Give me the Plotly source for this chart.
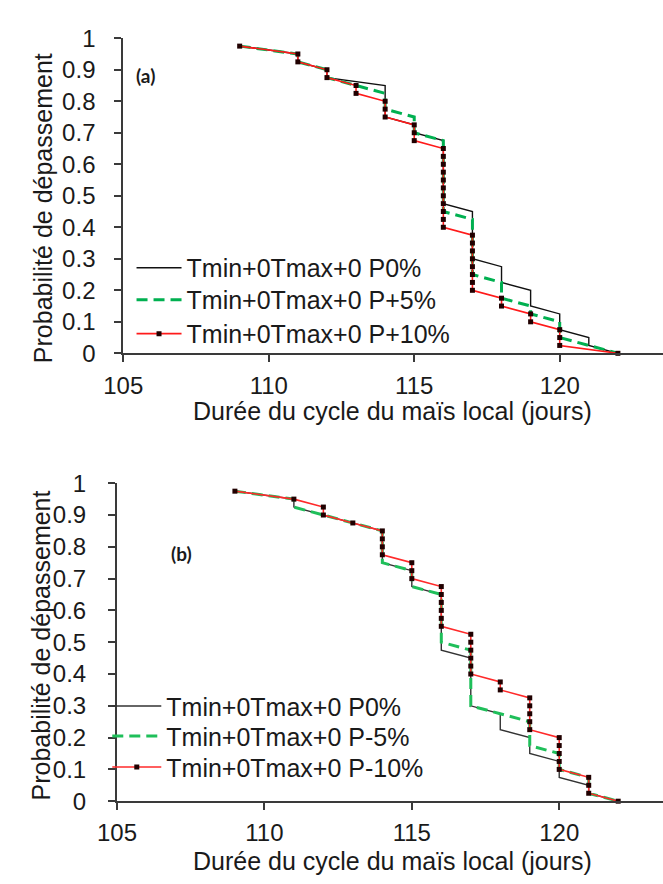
import plotly.graph_objects as go

W, H = 663, 884

# Exceedance probability of each ranked year (40 simulated seasons)
prob = [0.975, 0.95, 0.925, 0.9, 0.875, 0.85, 0.825, 0.8, 0.775, 0.75,
        0.725, 0.7, 0.675, 0.65, 0.625, 0.6, 0.575, 0.55, 0.525, 0.5,
        0.475, 0.45, 0.425, 0.4, 0.375, 0.35, 0.325, 0.3, 0.275, 0.25,
        0.225, 0.2, 0.175, 0.15, 0.125, 0.1, 0.075, 0.05, 0.025, 0.0]

# Cycle length (days), sorted, panel (a): rainfall increased
a_p0 = [109, 111, 111, 112, 112, 114, 114, 114, 114, 114,
        115, 115, 116, 116, 116, 116, 116, 116, 116, 116,
        116, 117, 117, 117, 117, 117, 117, 117, 118, 118,
        118, 119, 119, 119, 120, 120, 120, 121, 121, 122]
a_p5 = [109, 111, 111, 112, 112, 113, 114, 114, 114, 115,
        115, 115, 116, 116, 116, 116, 116, 116, 116, 116,
        116, 116, 117, 117, 117, 117, 117, 117, 117, 117,
        118, 118, 118, 119, 119, 120, 120, 120, 121, 122]
a_p10 = [109, 111, 111, 112, 112, 113, 113, 114, 114, 114,
         115, 115, 115, 116, 116, 116, 116, 116, 116, 116,
         116, 116, 116, 116, 117, 117, 117, 117, 117, 117,
         117, 117, 118, 118, 119, 119, 120, 120, 120, 122]

# Cycle length (days), sorted, panel (b): rainfall decreased
b_p0 = [109, 111, 111, 112, 113, 114, 114, 114, 114, 114,
        115, 115, 115, 116, 116, 116, 116, 116, 116, 116,
        116, 117, 117, 117, 117, 117, 117, 117, 118, 118,
        118, 119, 119, 119, 120, 120, 120, 121, 121, 122]
b_m5 = [109, 111, 111, 112, 113, 114, 114, 114, 114, 114,
        115, 115, 115, 116, 116, 116, 116, 116, 116, 116,
        117, 117, 117, 117, 117, 117, 117, 117, 118, 119,
        119, 119, 119, 120, 120, 120, 121, 121, 121, 122]
b_m10 = [109, 111, 112, 112, 113, 114, 114, 114, 114, 115,
         115, 115, 116, 116, 116, 116, 116, 116, 117, 117,
         117, 117, 117, 117, 118, 118, 119, 119, 119, 119,
         119, 120, 120, 120, 120, 120, 121, 121, 121, 122]

names_a = ["Tmin+0Tmax+0 P0%", "Tmin+0Tmax+0 P+5%", "Tmin+0Tmax+0 P+10%"]
names_b = ["Tmin+0Tmax+0 P0%", "Tmin+0Tmax+0 P-5%", "Tmin+0Tmax+0 P-10%"]
x_ticks = [105, 110, 115, 120]
y_ticks = [0, 0.1, 0.2, 0.3, 0.4, 0.5, 0.6, 0.7, 0.8, 0.9, 1]

FONT = "Liberation Sans, Arial, sans-serif"
TXT = "#1a1a1a"


def px_x(p):
    return p / W


def px_y(p):
    return 1 - p / H


def series_traces(durations, names, xa, ya, legends, black, green, red):
    s0, s1, s2 = durations
    return [
        go.Scatter(x=s0, y=prob, mode="lines", name=names[0],
                   line=dict(color=black, width=1.4), showlegend=True,
                   xaxis=xa, yaxis=ya, legend=legends[0], cliponaxis=False),
        go.Scatter(x=s1, y=prob, mode="lines", name=names[1],
                   line=dict(color=green, width=3, dash="11px,6px"), showlegend=True,
                   xaxis=xa, yaxis=ya, legend=legends[1], cliponaxis=False),
        go.Scatter(x=s2, y=prob, mode="lines+markers", name=names[2],
                   line=dict(color=red, width=1.6), showlegend=True,
                   marker=dict(symbol="square", size=5, color="#200000",
                               line=dict(width=0)),
                   xaxis=xa, yaxis=ya, legend=legends[2], cliponaxis=False),
    ]


fig = go.Figure()
for t in series_traces((a_p0, a_p5, a_p10), names_a, "x", "y",
                       ("legend", "legend2", "legend3"),
                       "#111111", "#00b050", "#ff1a1a"):
    fig.add_trace(t)
for t in series_traces((b_p0, b_m5, b_m10), names_b, "x2", "y2",
                       ("legend4", "legend5", "legend6"),
                       "#333333", "#1fbf5a", "#ff2a2a"):
    fig.add_trace(t)

axis_common = dict(
    showgrid=False, zeroline=False, showline=True, linecolor="#3a3a3a",
    linewidth=2, ticks="outside", ticklen=7, tickwidth=1.6,
    tickcolor="#3a3a3a", tickfont=dict(family=FONT, size=24, color=TXT),
)


def legend_row(x_left, y_mid, item_w):
    return dict(x=px_x(x_left), y=px_y(y_mid), xanchor="left", yanchor="middle",
                bgcolor="rgba(0,0,0,0)", itemwidth=item_w, visible=True,
                font=dict(family=FONT, size=25, color=TXT))


fig.update_layout(
    width=W, height=H, margin=dict(l=0, r=0, t=0, b=0),
    paper_bgcolor="white", plot_bgcolor="white", showlegend=True,
    font=dict(family=FONT, size=24, color=TXT),
    xaxis=dict(domain=[px_x(106.5), 1], range=[105, 105 + (W - 106.5) / 30],
               tickvals=x_ticks, anchor="y", ticklabelstandoff=3, **axis_common),
    yaxis=dict(domain=[px_y(350), px_y(25)], range=[0, 1], tickvals=y_ticks,
               anchor="x", ticklabelstandoff=14, **axis_common),
    xaxis2=dict(domain=[px_x(100), 1], range=[105, 105 + (W - 100) / 30.4],
                tickvals=x_ticks, anchor="y2", ticklabelstandoff=2, **axis_common),
    yaxis2=dict(domain=[px_y(812), px_y(484)], range=[0, 1], tickvals=y_ticks,
                anchor="x2", ticklabelstandoff=17, **axis_common),
    legend=legend_row(115, 262, 45),
    legend2=legend_row(115, 295, 45),
    legend3=legend_row(115, 330, 45),
    legend4=legend_row(90, 714, 49),
    legend5=legend_row(90, 745, 49),
    legend6=legend_row(90, 777, 49),
)

annotations = [
    dict(text="<b>(a)</b>", x=px_x(129), y=px_y(63),
         font=dict(family="Lato, sans-serif", size=19, color=TXT)),
    dict(text="<b>(b)</b>", x=px_x(167), y=px_y(556),
         font=dict(family="Lato, sans-serif", size=19, color=TXT)),
    dict(text="Probabilité de dépassement", x=px_x(24), y=px_y(200), textangle=-90,
         font=dict(family=FONT, size=25, color=TXT)),
    dict(text="Probabilité de dépassement", x=px_x(22), y=px_y(651), textangle=-90,
         font=dict(family=FONT, size=25, color=TXT)),
    dict(text="Durée du cycle du maïs local (jours)", x=px_x(384), y=px_y(410),
         font=dict(family=FONT, size=25, color=TXT)),
    dict(text="Durée du cycle du maïs local (jours)", x=px_x(384), y=px_y(874),
         font=dict(family=FONT, size=25, color=TXT)),
]
for a in annotations:
    a.update(xref="paper", yref="paper", xanchor="center", yanchor="middle",
             showarrow=False)
fig.update_layout(annotations=annotations)

fig.write_html("out.html")
